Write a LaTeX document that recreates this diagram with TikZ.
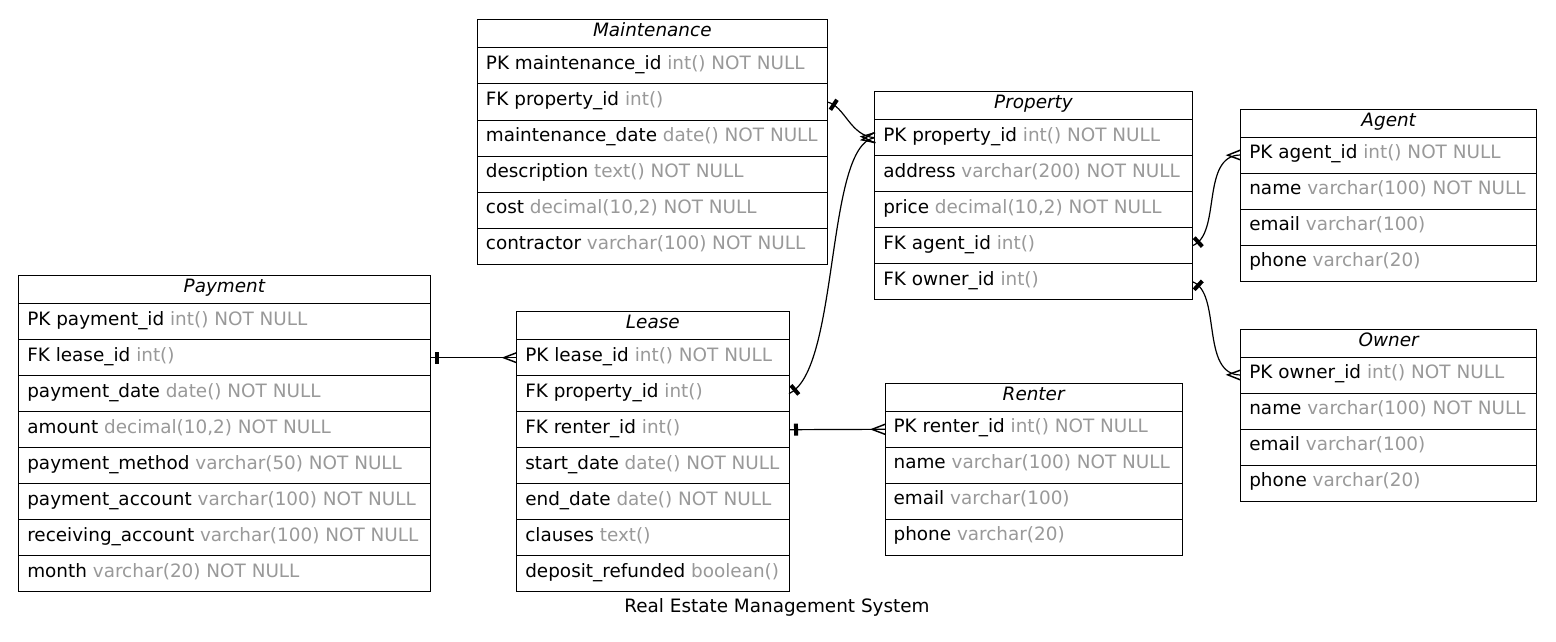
\documentclass[tikz,border=0pt]{standalone}
\usepackage{fontspec}
\setmainfont{DejaVu Sans}
\usetikzlibrary{decorations.markings}
\definecolor{typegray}{HTML}{999999}
\tikzset{
  cellbase/.style={draw=black, line width=0.75pt, anchor=north west, outer sep=0pt, inner xsep=6.45pt, inner ysep=0pt},
  hdrcell/.style={cellbase, minimum height=21pt, font=\fontsize{13.8pt}{17pt}\selectfont\itshape, text height=8.5pt, text depth=4pt},
  rowcell/.style={cellbase, minimum height=27pt, font=\fontsize{13.8pt}{17pt}\selectfont, text height=9pt, text depth=4pt},
  rel/.style={draw=black, line width=0.9pt, postaction={decorate}, decoration={markings,
     mark=at position 5.25pt with {\draw[line width=3pt] (0,-4.5pt)--(0,4.5pt);},
     mark=at position -0.3pt with {\draw[line width=1.1pt] (0.3pt,3.75pt)--(-9.45pt,0)--(0.3pt,-3.75pt);}}},
  titlelbl/.style={font=\fontsize{13.8pt}{17pt}\selectfont, anchor=base, inner sep=0pt},
}
% #1 id, #2 x, #3 y, #4 width (px), #5 title, #6 rows
\newcommand{\erdtable}[6]{%
  \pgfmathsetlengthmacro\erdmw{#4*0.75pt}%
  \pgfmathsetlengthmacro\erdtw{#4*0.75pt-12.9pt}%
  \node[hdrcell, minimum width=\erdmw] (#1-h) at (#2,#3) {\makebox[\erdtw][c]{#5}};
  \foreach \na/\ty [count=\i] in {#6} {
    \node[rowcell, minimum width=\erdmw] (#1-\i) at ({#2},{#3+28+36*(\i-1)}) {\makebox[\erdtw][l]{\na\ \textcolor{typegray}{\ty}}};
  }
}
\begin{document}
\begin{tikzpicture}[x=0.75pt,y=-0.75pt]
\path[use as bounding box, fill=white] (0,0) rectangle (1556,642);

\erdtable{maint}{477.3}{20}{350}{Maintenance}{PK maintenance\_id/int() NOT NULL, FK property\_id/int(), maintenance\_date/date() NOT NULL, description/text() NOT NULL, cost/{decimal(10,2) NOT NULL}, contractor/varchar(100) NOT NULL}

\erdtable{prop}{874.7}{91.7}{317.6}{Property}{PK property\_id/int() NOT NULL, address/varchar(200) NOT NULL, price/{decimal(10,2) NOT NULL}, FK agent\_id/int(), FK owner\_id/int()}

\erdtable{agent}{1240.7}{109}{296}{Agent}{PK agent\_id/int() NOT NULL, name/varchar(100) NOT NULL, email/varchar(100), phone/varchar(20)}

\erdtable{owner}{1240.7}{329}{296}{Owner}{PK owner\_id/int() NOT NULL, name/varchar(100) NOT NULL, email/varchar(100), phone/varchar(20)}

\erdtable{pay}{18.7}{275.7}{411.3}{Payment}{PK payment\_id/int() NOT NULL, FK lease\_id/int(), payment\_date/date() NOT NULL, amount/{decimal(10,2) NOT NULL}, payment\_method/varchar(50) NOT NULL, payment\_account/varchar(100) NOT NULL, receiving\_account/varchar(100) NOT NULL, month/varchar(20) NOT NULL}

\erdtable{lease}{516.7}{311.7}{272.3}{Lease}{PK lease\_id/int() NOT NULL, FK property\_id/int(), FK renter\_id/int(), start\_date/date() NOT NULL, end\_date/date() NOT NULL, clauses/text(), deposit\_refunded/boolean()}

\erdtable{renter}{885}{383.3}{297.3}{Renter}{PK renter\_id/int() NOT NULL, name/varchar(100) NOT NULL, email/varchar(100), phone/varchar(20)}

\draw[rel] (maint-2.east) .. controls (845,106) and (850,136) .. (prop-1.west);
\draw[rel] (lease-2.east) .. controls (840,370) and (825,145) .. (prop-1.west);
\draw[rel] (lease-3.east) -- (renter-1.west);
\draw[rel] (pay-2.east) -- (lease-1.west);
\draw[rel] (prop-4.east) .. controls (1222,235) and (1200,155) .. (agent-1.west);
\draw[rel] (prop-5.east) .. controls (1222,292.4) and (1200,375) .. (owner-1.west);

\node[titlelbl] (title) at (777,612.7) {Real Estate Management System};
\end{tikzpicture}
\end{document}
